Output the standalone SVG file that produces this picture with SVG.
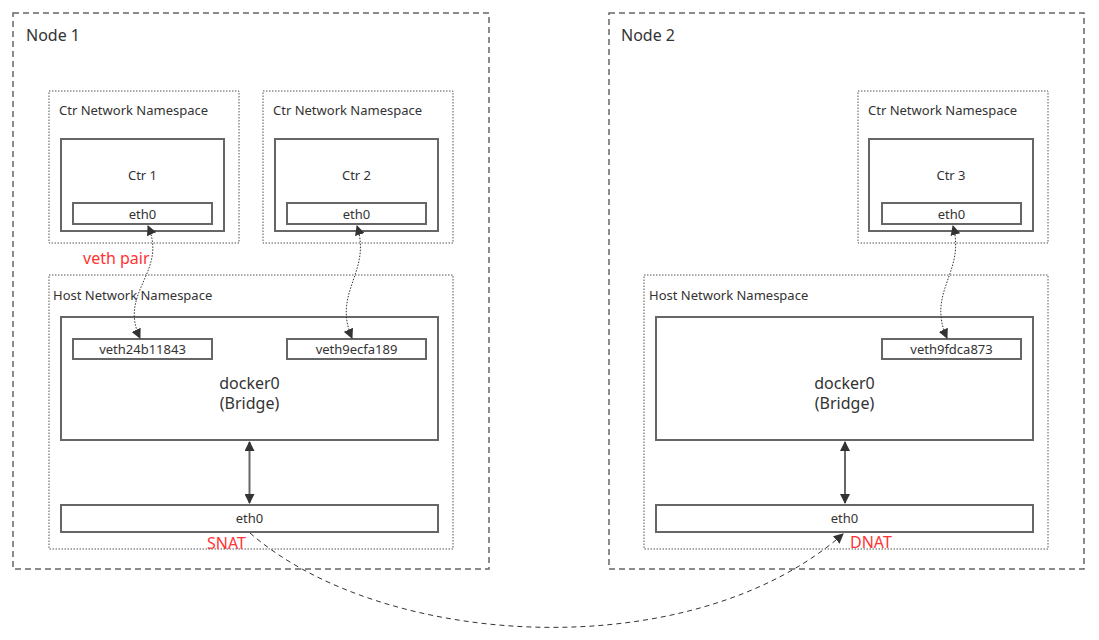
<svg xmlns="http://www.w3.org/2000/svg" width="1099" height="640" viewBox="0 0 1099 640">
<style>
text{font-family:"Noto Sans","Open Sans","Liberation Sans",sans-serif;fill:#333}
.node{fill:none;stroke:#666;stroke-width:1.5;stroke-dasharray:6 4}
.ns{fill:none;stroke:#555;stroke-width:1;stroke-dasharray:1.5 1.5}
.box{fill:#fff;stroke:#666;stroke-width:2}
.t13{font-size:13px}
.t16{font-size:16px}
.red{fill:#ff3333;font-size:16px}
.dot{fill:none;stroke:#333;stroke-width:1;stroke-dasharray:1.5 1.5}
.dash{fill:none;stroke:#333;stroke-width:1;stroke-dasharray:5 4}
.solid{fill:none;stroke:#666;stroke-width:2}
</style>
<defs>
<marker id="ah" viewBox="0 0 10 10" refX="9" refY="5" markerWidth="10" markerHeight="10" markerUnits="userSpaceOnUse" orient="auto-start-reverse">
<path d="M0,0 L10,5 L0,10 z" fill="#333"/>
</marker>
</defs>
<rect width="1099" height="640" fill="#fff"/>
<g id="node1">
<rect class="node" x="13" y="13" width="476" height="556"/>
<text x="26" y="41" class="t16">Node 1</text>
</g>
<g id="node2">
<rect class="node" x="609" y="13" width="475" height="556"/>
<text x="621" y="41" class="t16">Node 2</text>
</g>
<g id="ctrns1">
<rect class="ns" x="49" y="91" width="190" height="152"/>
<text x="59" y="115" class="t13">Ctr Network Namespace</text>
</g>
<g id="ctrns2">
<rect class="ns" x="263" y="91" width="190" height="152"/>
<text x="273" y="115" class="t13">Ctr Network Namespace</text>
</g>
<g id="ctrns3">
<rect class="ns" x="858" y="91" width="190" height="152"/>
<text x="868" y="115" class="t13">Ctr Network Namespace</text>
</g>
<g id="ctr1">
<rect class="box" x="61" y="139" width="163" height="92"/>
<text x="142.5" y="180" class="t13" text-anchor="middle">Ctr 1</text>
</g>
<g id="ctr1-eth0">
<rect class="box" x="73" y="203" width="139" height="21" stroke-width="1.5"/>
<text x="142.5" y="219" class="t13" text-anchor="middle">eth0</text>
</g>
<g id="ctr2">
<rect class="box" x="275" y="139" width="163" height="92"/>
<text x="356.5" y="180" class="t13" text-anchor="middle">Ctr 2</text>
</g>
<g id="ctr2-eth0">
<rect class="box" x="287" y="203" width="139" height="21" stroke-width="1.5"/>
<text x="356.5" y="219" class="t13" text-anchor="middle">eth0</text>
</g>
<g id="ctr3">
<rect class="box" x="869" y="139" width="164" height="92"/>
<text x="951" y="180" class="t13" text-anchor="middle">Ctr 3</text>
</g>
<g id="ctr3-eth0">
<rect class="box" x="882" y="203" width="139" height="21" stroke-width="1.5"/>
<text x="951.5" y="219" class="t13" text-anchor="middle">eth0</text>
</g>
<g id="hostns1">
<rect class="ns" x="49" y="275" width="404" height="274"/>
<text x="53" y="300" class="t13">Host Network Namespace</text>
</g>
<g id="hostns2">
<rect class="ns" x="644" y="275" width="404" height="274"/>
<text x="649" y="300" class="t13">Host Network Namespace</text>
</g>
<g id="docker0-1">
<rect class="box" x="61" y="317" width="377" height="123"/>
<text x="249.5" y="389" class="t16" text-anchor="middle">docker0</text>
<text x="249.5" y="409" class="t16" text-anchor="middle">(Bridge)</text>
</g>
<g id="veth24b11843">
<rect class="box" x="73" y="339" width="139" height="20" stroke-width="1.5"/>
<text x="142.5" y="354" class="t13" text-anchor="middle">veth24b11843</text>
</g>
<g id="veth9ecfa189">
<rect class="box" x="287" y="339" width="139" height="20" stroke-width="1.5"/>
<text x="356.5" y="354" class="t13" text-anchor="middle">veth9ecfa189</text>
</g>
<g id="docker0-2">
<rect class="box" x="656" y="317" width="377" height="123"/>
<text x="844.5" y="389" class="t16" text-anchor="middle">docker0</text>
<text x="844.5" y="409" class="t16" text-anchor="middle">(Bridge)</text>
</g>
<g id="veth9fdca873">
<rect class="box" x="882" y="339" width="139" height="20" stroke-width="1.5"/>
<text x="951.5" y="354" class="t13" text-anchor="middle">veth9fdca873</text>
</g>
<g id="host-eth0-1">
<rect class="box" x="61" y="505" width="377" height="27"/>
<text x="249.5" y="523" class="t13" text-anchor="middle">eth0</text>
</g>
<g id="host-eth0-2">
<rect class="box" x="656" y="505" width="377" height="27"/>
<text x="844.5" y="523" class="t13" text-anchor="middle">eth0</text>
</g>
<g id="labels">
<text x="83" y="264" class="red">veth pair</text>
<text x="207" y="549" class="red">SNAT</text>
<text x="850" y="548" class="red">DNAT</text>
</g>
<g id="connectors">
<path class="dot" d="M148 226 C168 272,118 292,140 338" marker-start="url(#ah)" marker-end="url(#ah)"/>
<path class="dot" d="M357 226 C372 272,332 292,352 338" marker-start="url(#ah)" marker-end="url(#ah)"/>
<path class="dot" d="M953 226 C966 272,926 292,947 338" marker-start="url(#ah)" marker-end="url(#ah)"/>
<path class="solid" d="M249.5 442 L249.5 503" marker-start="url(#ah)" marker-end="url(#ah)"/>
<path class="solid" d="M845 442 L845 503" marker-start="url(#ah)" marker-end="url(#ah)"/>
<path class="dash" d="M250 533 C384 650,692 667,843 534" marker-end="url(#ah)"/>
</g>
</svg>
